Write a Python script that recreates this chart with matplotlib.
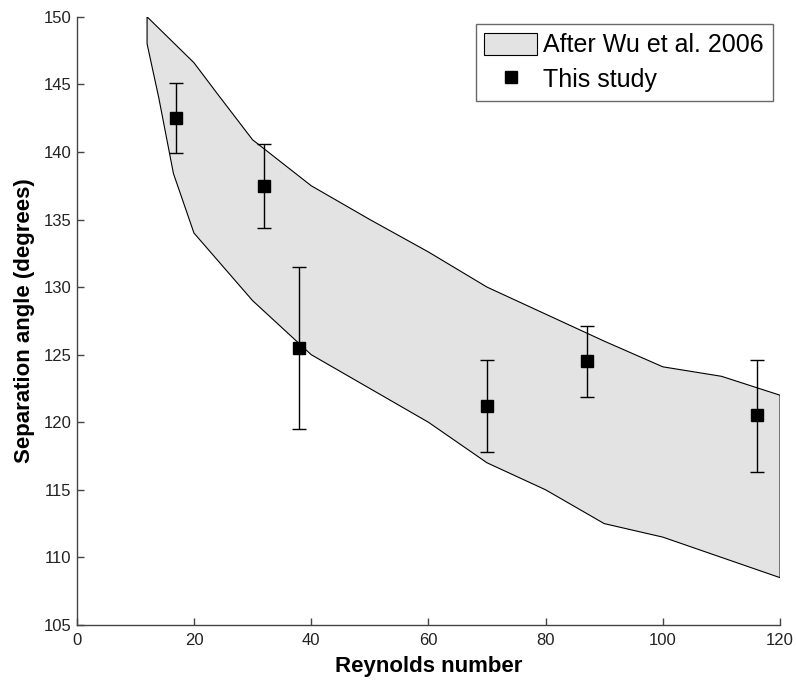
import matplotlib
matplotlib.use("Agg")
import matplotlib.pyplot as plt
from matplotlib.patches import Patch
from matplotlib.lines import Line2D

plt.rcParams['font.family'] = ['Liberation Sans', 'DejaVu Sans']

# Band "After Wu et al. 2006"
upper_x = [12, 20, 24, 30, 40, 50, 60, 70, 80, 90, 100, 110, 120]
upper_y = [150, 146.6, 144.3, 140.9, 137.5, 135.0, 132.6, 130.0, 128.0, 126.0, 124.1, 123.4, 122.0]
lower_x = [12, 14, 16.5, 20, 23, 30, 40, 50, 60, 70, 80, 90, 100, 110, 120]
lower_y = [148, 144, 138.4, 134, 132.5, 129, 125, 122.5, 120, 117, 115, 112.5, 111.5, 110, 108.5]

# This study
re_vals = [17, 32, 38, 70, 87, 116]
angles = [142.5, 137.5, 125.5, 121.2, 124.5, 120.5]
err_lo = [2.6, 3.1, 6.0, 3.4, 2.6, 4.2]
err_hi = [2.6, 3.1, 6.0, 3.4, 2.6, 4.1]

fig = plt.figure(figsize=(7.96, 6.82), dpi=100)
ax = fig.add_axes([0.0964, 0.0836, 0.8836, 0.8918])

poly_x = upper_x + lower_x[::-1]
poly_y = upper_y + lower_y[::-1]
ax.fill(poly_x, poly_y, facecolor='#e3e3e3', edgecolor='black', linewidth=0.8, zorder=1)

ax.errorbar(re_vals, angles, yerr=[err_lo, err_hi], fmt='s', color='black',
            markersize=8.5, capsize=4.7, elinewidth=1.0, capthick=1.0, zorder=3)

ax.set_xlim(0, 120)
ax.set_ylim(105, 150)
ax.set_xticks(range(0, 121, 20))
ax.set_yticks(range(105, 151, 5))

for s in ['top', 'right']:
    ax.spines[s].set_visible(False)
for s in ['left', 'bottom']:
    ax.spines[s].set_color('#444444')
    ax.spines[s].set_linewidth(1.0)

ax.tick_params(direction='in', length=5, width=1.0, color='#444444',
               labelsize=12, labelcolor='#222222')
ax.tick_params(axis='x', pad=5.5)
ax.tick_params(axis='y', pad=4)

ax.set_xlabel('Reynolds number', fontsize=16, fontweight='bold', labelpad=6)
ax.set_ylabel('Separation angle (degrees)', fontsize=16, fontweight='bold', labelpad=6)

handles = [Patch(facecolor='#e3e3e3', edgecolor='black', linewidth=0.8),
           Line2D([], [], marker='s', linestyle='none', color='black', markersize=8.5)]
leg = ax.legend(handles, ['After Wu et al. 2006', 'This study'], loc='upper right',
                fontsize=18, frameon=True, fancybox=False, borderaxespad=0.3,
                handlelength=2.1, handleheight=0.95, handletextpad=0.25,
                borderpad=0.35, labelspacing=0.4)
leg.get_frame().set_edgecolor('#444444')
leg.get_frame().set_linewidth(1.0)

fig.savefig('out.png', dpi=100)
